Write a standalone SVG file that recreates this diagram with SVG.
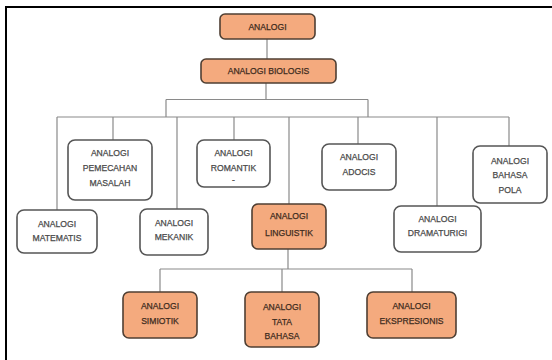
<svg xmlns="http://www.w3.org/2000/svg" width="552" height="360" viewBox="0 0 552 360">
<style>
.o{fill:#F4AA7E;stroke:#4f3f33;stroke-width:1.6}
.w{fill:#fff;stroke:#555;stroke-width:1.6}
text{font-family:"Liberation Sans",Arial,sans-serif;font-size:8.6px;text-anchor:middle;stroke-width:0.25}
.to{fill:#3e2c20;stroke:#3e2c20}
.tw{fill:#4a4a4a;stroke:#4a4a4a}
.c{stroke:#8a8a8a;stroke-width:1.2;fill:none}
</style>
<rect width="552" height="360" fill="#fff"/>
<path d="M6 360 V7 H552" fill="none" stroke="#000" stroke-width="2"/>
<g id="connectors" class="c">
<path d="M267 39 V59"/>
<path d="M266 83 V99.5 M166 99.5 H368 M166 99.5 V117 M368 99.5 V117"/>
<path d="M57 117 H509 M57 117 V210 M113 117 V140 M177 117 V209 M234 117 V140 M289 117 V204 M358 117 V144 M437 117 V206 M509 117 V146"/>
<path d="M288 249 V269 M160 269 H412 M160 269 V292 M282 269 V292 M412 269 V292"/>
</g>
<g id="analogi"><rect class="o" x="220" y="14" width="95" height="25" rx="5"/><text class="to" x="267.5" y="30">ANALOGI</text></g>
<g id="biologis"><rect class="o" x="201" y="59" width="135" height="24" rx="5"/><text class="to" x="268.5" y="74">ANALOGI BIOLOGIS</text></g>
<g id="pemecahan"><rect class="w" x="68" y="140" width="84" height="60" rx="7"/><text class="tw" x="110" y="156">ANALOGI</text><text class="tw" x="110" y="171">PEMECAHAN</text><text class="tw" x="110" y="186">MASALAH</text></g>
<g id="romantik"><rect class="w" x="197" y="140" width="73" height="47" rx="7"/><text class="tw" x="233.5" y="156">ANALOGI</text><text class="tw" x="233.5" y="171">ROMANTIK</text><text class="tw" x="233.5" y="183">-</text></g>
<g id="adocis"><rect class="w" x="322" y="144" width="74" height="46" rx="7"/><text class="tw" x="359" y="160">ANALOGI</text><text class="tw" x="359" y="175">ADOCIS</text></g>
<g id="bahasapola"><rect class="w" x="473" y="146" width="74" height="57" rx="7"/><text class="tw" x="510" y="164">ANALOGI</text><text class="tw" x="510" y="178">BAHASA</text><text class="tw" x="510" y="193">POLA</text></g>
<g id="matematis"><rect class="w" x="17" y="210" width="80" height="43" rx="7"/><text class="tw" x="57" y="227">ANALOGI</text><text class="tw" x="57" y="241">MATEMATIS</text></g>
<g id="mekanik"><rect class="w" x="140" y="209" width="68" height="46" rx="7"/><text class="tw" x="174" y="226">ANALOGI</text><text class="tw" x="174" y="240">MEKANIK</text></g>
<g id="linguistik"><rect class="o" x="252" y="204" width="74" height="45" rx="6"/><text class="to" x="289" y="219">ANALOGI</text><text class="to" x="289" y="236">LINGUISTIK</text></g>
<g id="dramaturigi"><rect class="w" x="394" y="206" width="87" height="46" rx="7"/><text class="tw" x="437.5" y="222">ANALOGI</text><text class="tw" x="437.5" y="236">DRAMATURIGI</text></g>
<g id="simiotik"><rect class="o" x="123" y="292" width="74" height="46" rx="6"/><text class="to" x="160" y="309">ANALOGI</text><text class="to" x="160" y="324">SIMIOTIK</text></g>
<g id="tatabahasa"><rect class="o" x="245" y="292" width="74" height="55" rx="6"/><text class="to" x="282" y="310">ANALOGI</text><text class="to" x="282" y="325">TATA</text><text class="to" x="282" y="339">BAHASA</text></g>
<g id="ekspresionis"><rect class="o" x="367" y="292" width="89" height="46" rx="6"/><text class="to" x="411.5" y="309">ANALOGI</text><text class="to" x="411.5" y="324">EKSPRESIONIS</text></g>
</svg>
